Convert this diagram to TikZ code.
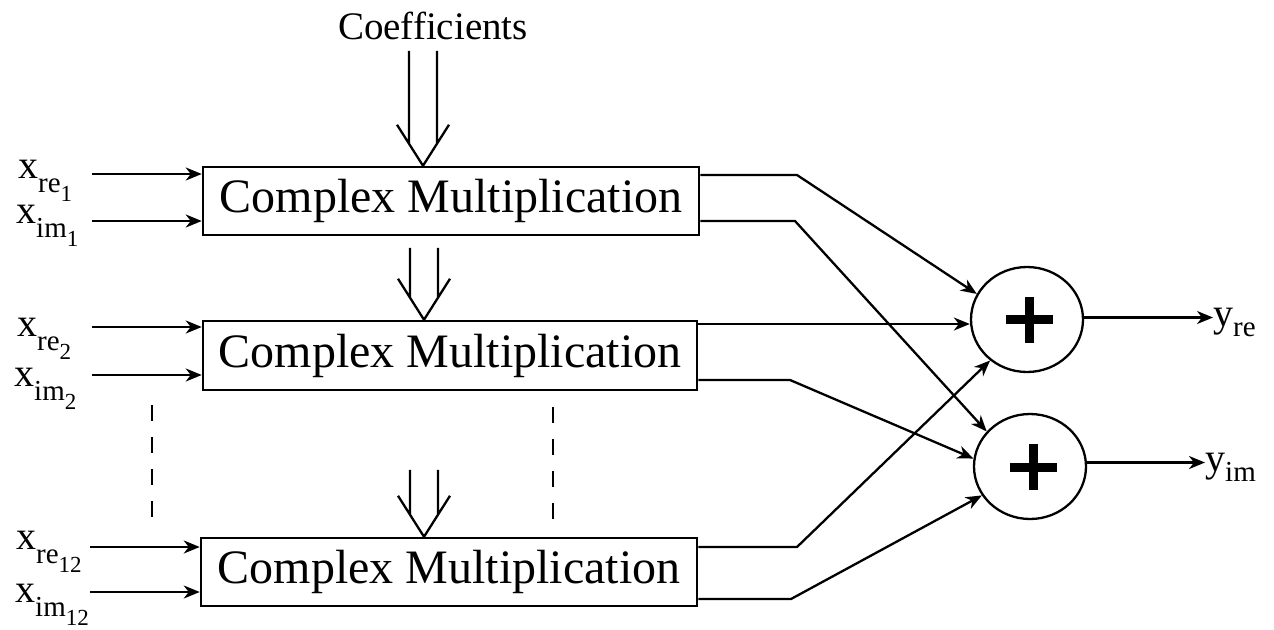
\documentclass[tikz,border=0pt]{standalone}
\usepackage{fontspec}
\setmainfont{Liberation Serif}
\usetikzlibrary{arrows.meta,calc,shapes.geometric}

% signal name with a subscript and an optional second-level subscript
\newcommand\siglabel[4]{{\fontsize{40}{40}\selectfont #1}\raisebox{-#4pt}{\fontsize{29}{29}\selectfont #2\raisebox{-9pt}{\fontsize{23}{23}\selectfont #3}}}

% open double arrow ending at #1, reaching #2 units upwards
\newcommand\feedarrow[2]{%
  \draw[wire] ($(#1)+(-14,-#2)$) -- ($(#1)+(-14,-22)$)
              ($(#1)+(14,-#2)$) -- ($(#1)+(14,-22)$)
              ($(#1)+(-26,-41)$) -- (#1) -- ($(#1)+(26,-41)$);}

\tikzset{
  wire/.style={line width=2.3pt},
  sig/.style={wire, -{Stealth[length=16pt,width=13pt,inset=5pt]}},
  mulbox/.style={draw, line width=2.5pt, minimum width=496pt, minimum height=68pt,
                 inner sep=0pt, font=\fontsize{48}{48}\selectfont},
  sumnode/.style={draw, ellipse, line width=2.3pt, minimum width=112pt,
                  minimum height=105pt, inner sep=0pt},
  siglbl/.style={anchor=base west, inner sep=0pt},
  guide/.style={line width=2.3pt, dash pattern=on 15.5pt off 16.5pt},
  sumsign/.pic={\fill (-23.5,-4.5) rectangle (23.5,4.5);
                \fill (-4.8,-23) rectangle (4.8,23);}
}

\begin{document}
\begin{tikzpicture}[x=1pt, y=-1pt]
\useasboundingbox (0,0) rectangle (1274,629);

% multiplier blocks
\node[mulbox] (b1) at (451,201) {Complex Multiplication};
\node[mulbox, minimum width=494pt, minimum height=69pt] (b2) at (450,355.5) {Complex Multiplication};
\node[mulbox] (b3) at (449,572) {Complex Multiplication};

% adders
\node[sumnode] (s1) at (1027,319.5) {};
\node[sumnode] (s2) at (1030,466.5) {};
\pic at ($(s1)+(2.5,0)$) {sumsign};
\pic at ($(s2)+(3.5,0.5)$) {sumsign};

% coefficient feed
\node[anchor=base, inner sep=0pt, font=\fontsize{39}{39}\selectfont] (coef) at (433,39) {Coefficients};
\coordinate (t1) at ([xshift=-28pt]b1.north);
\coordinate (t2) at ([xshift=-26pt]b2.north);
\coordinate (t3) at ([xshift=-25pt]b3.north);
\feedarrow{t1}{115}
\feedarrow{t2}{72}
\feedarrow{t3}{67}

% elided blocks
\draw[guide] (152,405) -- (152,517);
\draw[guide] (553,407) -- (553,519);

% inputs
\node[siglbl] (lr1) at (18,178) {\siglabel{x}{re}{1}{14}};
\node[siglbl] (li1) at (16,223) {\siglabel{x}{im}{1}{14}};
\node[siglbl] (lr2) at (17,336) {\siglabel{x}{re}{2}{14}};
\node[siglbl] (li2) at (14,386) {\siglabel{x}{im}{2}{14}};
\node[siglbl] (lr3) at (16,549) {\siglabel{x}{re}{12}{14}};
\node[siglbl] (li3) at (15,602) {\siglabel{x}{im}{12}{14}};

\coordinate (i1r) at (92,174);
\coordinate (i1i) at (92,221);
\coordinate (i2r) at (92,327);
\coordinate (i2i) at (92,375);
\coordinate (i3r) at (90,547);
\coordinate (i3i) at (90,592);
\draw[sig] (i1r) -- (i1r -| b1.west);
\draw[sig] (i1i) -- (i1i -| b1.west);
\draw[sig] (i2r) -- (i2r -| b2.west);
\draw[sig] (i2i) -- (i2i -| b2.west);
\draw[sig] (i3r) -- (i3r -| b3.west);
\draw[sig] (i3i) -- (i3i -| b3.west);

% products into the adders
\coordinate (k1) at (797,175);
\coordinate (k2) at (795,221);
\coordinate (k3) at (800,324);
\coordinate (k4) at (790,380);
\coordinate (k5) at (797,547);
\coordinate (k6) at (791,599);
\draw[sig] (k1 -| b1.east) -- (k1) -- (s1.153);
\draw[sig] (k2 -| b1.east) -- (k2) -- (s2.141);
\draw[sig] (k3 -| b2.east) -- (k3 -| s1.west);
\draw[sig] (k4 -| b2.east) -- (k4) -- (s2.172);
\draw[sig] (k5 -| b3.east) -- (k5) -- (s1.228);
\draw[sig] (k6 -| b3.east) -- (k6) -- (s2.211);

% outputs
\node[siglbl] (yre) at (1213,326) {\siglabel{y}{re}{}{10}};
\node[siglbl] (yim) at (1205,471) {\siglabel{y}{im}{}{10}};
\draw[sig] (s1.2) -- (s1.2 -| yre.west);
\draw[sig] (s2.4) -- (s2.4 -| yim.west);
\end{tikzpicture}
\end{document}
